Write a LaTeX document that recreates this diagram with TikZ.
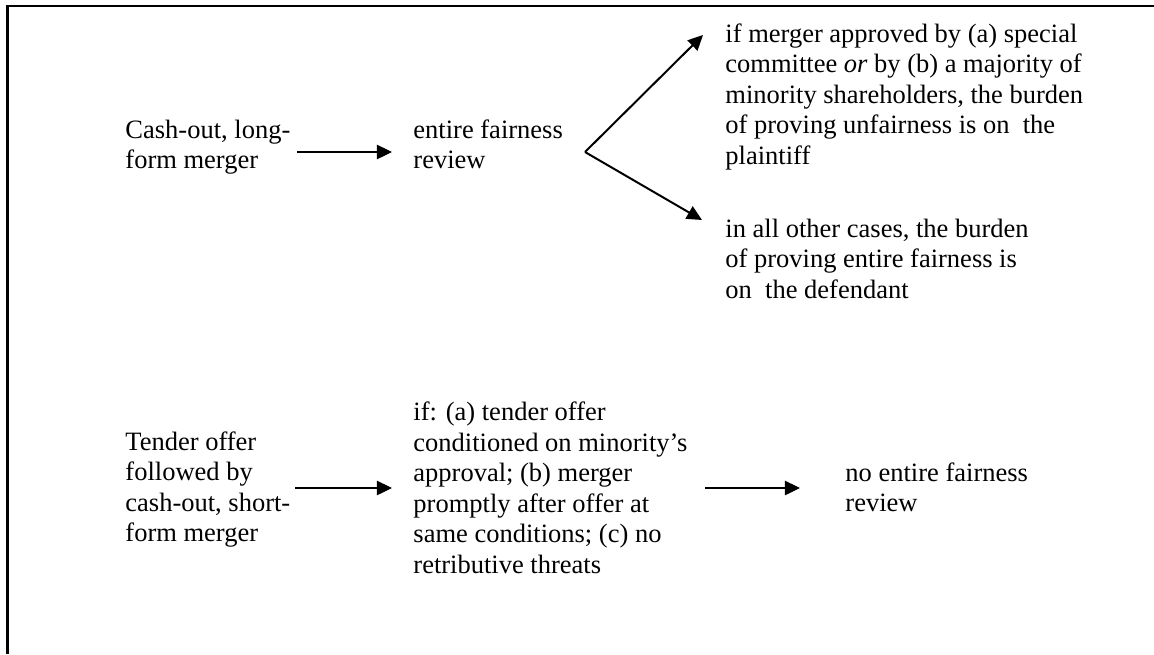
\documentclass[tikz,border=0pt]{standalone}
\usepackage{fontspec}
\setmainfont{Liberation Serif}
\usetikzlibrary{arrows.meta, positioning}

\begin{document}
\begin{tikzpicture}[
  x=0.4528pt, y=-0.4528pt,
  txt/.style={anchor=base west, inner sep=0pt, align=left, font=\fontsize{12}{13.8}\selectfont},
  arrow/.style={-{Triangle[length=6.8pt, width=6.4pt]}, line width=0.9pt},
  frame/.style={line width=1pt}
]
  \useasboundingbox (0,0) rectangle (1154,654);
  % Frame
  \draw[frame] (7.5,654) -- (7.5,6) -- (1154,6);

  % Long-form merger (nodes placed by their last baseline)
  \node[txt] (longform) at (125,168.5) {Cash-out, long-\\form merger};
  \node[txt] (fairness) at (413,168.5) {entire fairness\\review};
  \node[txt] (approved) at (725,164) {if merger approved by (a) special\\committee \emph{or} by (b) a majority of\\minority shareholders, the burden\\of proving unfairness is on~ the\\plaintiff};
  \node[txt] (othercases) at (725,298) {in all other cases, the burden\\of proving entire fairness is\\on~ the defendant};

  \coordinate (longout) at (297,152);
  \coordinate (fairin) at (392,152);
  \coordinate (fork) at (585,152);
  \coordinate (approvedin) at (703,35);
  \coordinate (otherin) at (702,220);

  \draw[arrow] (longout) -- (fairin);
  \draw[arrow] (fork) -- (approvedin);
  \draw[arrow] (fork) -- (otherin);

  % Short-form merger
  \node[txt] (shortform) at (125,541.5) {Tender offer\\followed by\\cash-out, short-\\form merger};
  \node[txt] (conditions) at (413,573) {if: (a) tender offer\\conditioned on minority’s\\approval; (b) merger\\promptly after offer at\\same conditions; (c) no\\retributive threats};
  \node[txt] (noreview) at (845,511.5) {no entire fairness\\review};

  \coordinate (shortout) at (295,488);
  \coordinate (condin) at (392,488);
  \coordinate (condout) at (705,488);
  \coordinate (noin) at (800,488);

  \draw[arrow] (shortout) -- (condin);
  \draw[arrow] (condout) -- (noin);
\end{tikzpicture}
\end{document}
